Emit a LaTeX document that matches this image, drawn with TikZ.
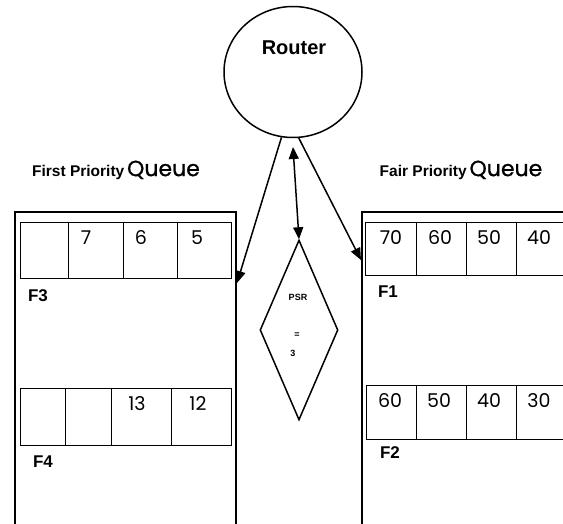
\documentclass[tikz,border=0pt]{standalone}
\usepackage{fontspec}
\setmainfont{Liberation Sans}
\newfontfamily\geofont{Poppins}
\newfontfamily\geoheavy{Poppins}[FakeBold=0.8]
\usetikzlibrary{arrows.meta,shapes.geometric}

% one slot of a queue: name, left, top, right, bottom
\newcommand\qcell[5]{%
  \node[cell,minimum width={#4-#2},minimum height={#5-#3}] (#1)
    at ({(#2+#4)/2},{(#3+#5)/2}) {};}

\begin{document}
\begin{tikzpicture}[x=1pt,y=-1pt,
  frame/.style={line width=2pt},
  cell/.style={draw,rectangle,line width=0.9pt,inner sep=0pt,outer sep=0pt},
  num/.style={font=\geofont\fontsize{19}{19}\selectfont,inner sep=0pt},
  flowlbl/.style={font=\bfseries\fontsize{17}{17}\selectfont,inner sep=0pt},
  title/.style={inner sep=0pt},
  link/.style={line width=1.5pt,-{Triangle[length=12pt,width=10pt]}},
  duplex/.style={line width=1.5pt,{Triangle[length=12pt,width=10pt]}-{Triangle[length=12pt,width=10pt]}},
  tiny/.style={font=\bfseries\fontsize{9}{9}\selectfont,inner sep=0pt}]

\useasboundingbox (0,0) rectangle (563,524);

% router
\node[draw,ellipse,line width=1.5pt,minimum width=138,minimum height=131,inner sep=0pt]
  (router) at (293,72) {};
\node[font=\bfseries\fontsize{20}{20}\selectfont,inner sep=0pt] (rname) at (294,48) {Router};

% scheduler decision
\node[draw,diamond,line width=1.5pt,minimum width=78,minimum height=180,inner sep=0pt]
  (psr) at (299,330) {};
\node[tiny] (psrtxt) at (298,297) {PSR};
\node[tiny] (psreq) at (297,335) {=};
\node[tiny] (psrval) at (293,353) {3};

% queue titles
\node[title] (ltitle) at (116,170)
  {{\bfseries\fontsize{15.5}{15}\selectfont First Priority} {\geoheavy\fontsize{22}{22}\selectfont Queue}};
\node[title] (rtitle) at (461,170)
  {{\bfseries\fontsize{15.5}{15}\selectfont Fair Priority} {\geoheavy\fontsize{22}{22}\selectfont Queue}};

% queue enclosures (open at the bottom)
\draw[frame] (15,530) -- (15,212) -- (236,212) -- (236,530);
\draw[frame] (362,530) -- (362,212) -- (570,212);
\coordinate (lq) at (237,283);
\coordinate (rq) at (361,260);

% first priority queue, flow F3
\qcell{f3a}{20}{222}{68}{278}
\qcell{f3b}{68}{222}{123}{278}
\qcell{f3c}{123}{222}{177}{278}
\qcell{f3d}{177}{222}{231}{278}
\node[num] (n7) at (86,238) {7};
\node[num] (n6) at (141,238) {6};
\node[num] (n5) at (197,238) {5};
\node[flowlbl] (lf3) at (38,296) {F3};

% first priority queue, flow F4
\qcell{f4a}{20}{388}{65}{445}
\qcell{f4b}{65}{388}{111}{445}
\qcell{f4c}{111}{388}{171}{445}
\qcell{f4d}{171}{388}{231}{445}
\node[num] (n13) at (137,404) {13};
\node[num] (n12) at (198,404) {12};
\node[flowlbl] (lf4) at (43,462) {F4};

% fair priority queue, flow F1
\qcell{f1a}{365}{222}{416}{275}
\qcell{f1b}{416}{222}{466}{275}
\qcell{f1c}{466}{222}{516}{275}
\qcell{f1d}{516}{222}{568}{275}
\node[num] (n70) at (391,238) {70};
\node[num] (n60a) at (440,238) {60};
\node[num] (n50a) at (489,238) {50};
\node[num] (n40a) at (539,238) {40};
\node[flowlbl] (lf1) at (388,292) {F1};

% fair priority queue, flow F2
\qcell{f2a}{366}{385}{416}{439}
\qcell{f2b}{416}{385}{466}{439}
\qcell{f2c}{466}{385}{516}{439}
\qcell{f2d}{516}{385}{568}{439}
\node[num] (n60b) at (390,401) {60};
\node[num] (n50b) at (439,401) {50};
\node[num] (n40b) at (489,401) {40};
\node[num] (n30b) at (539,401) {30};
\node[flowlbl] (lf2) at (390,453) {F2};

% connections from the router
\coordinate (dtop) at (293,147);
\draw[link] (router.-100) -- (lq);
\draw[link] (router.-85) -- (rq);
\draw[duplex] (dtop) -- (psr.north);
\end{tikzpicture}
\end{document}
